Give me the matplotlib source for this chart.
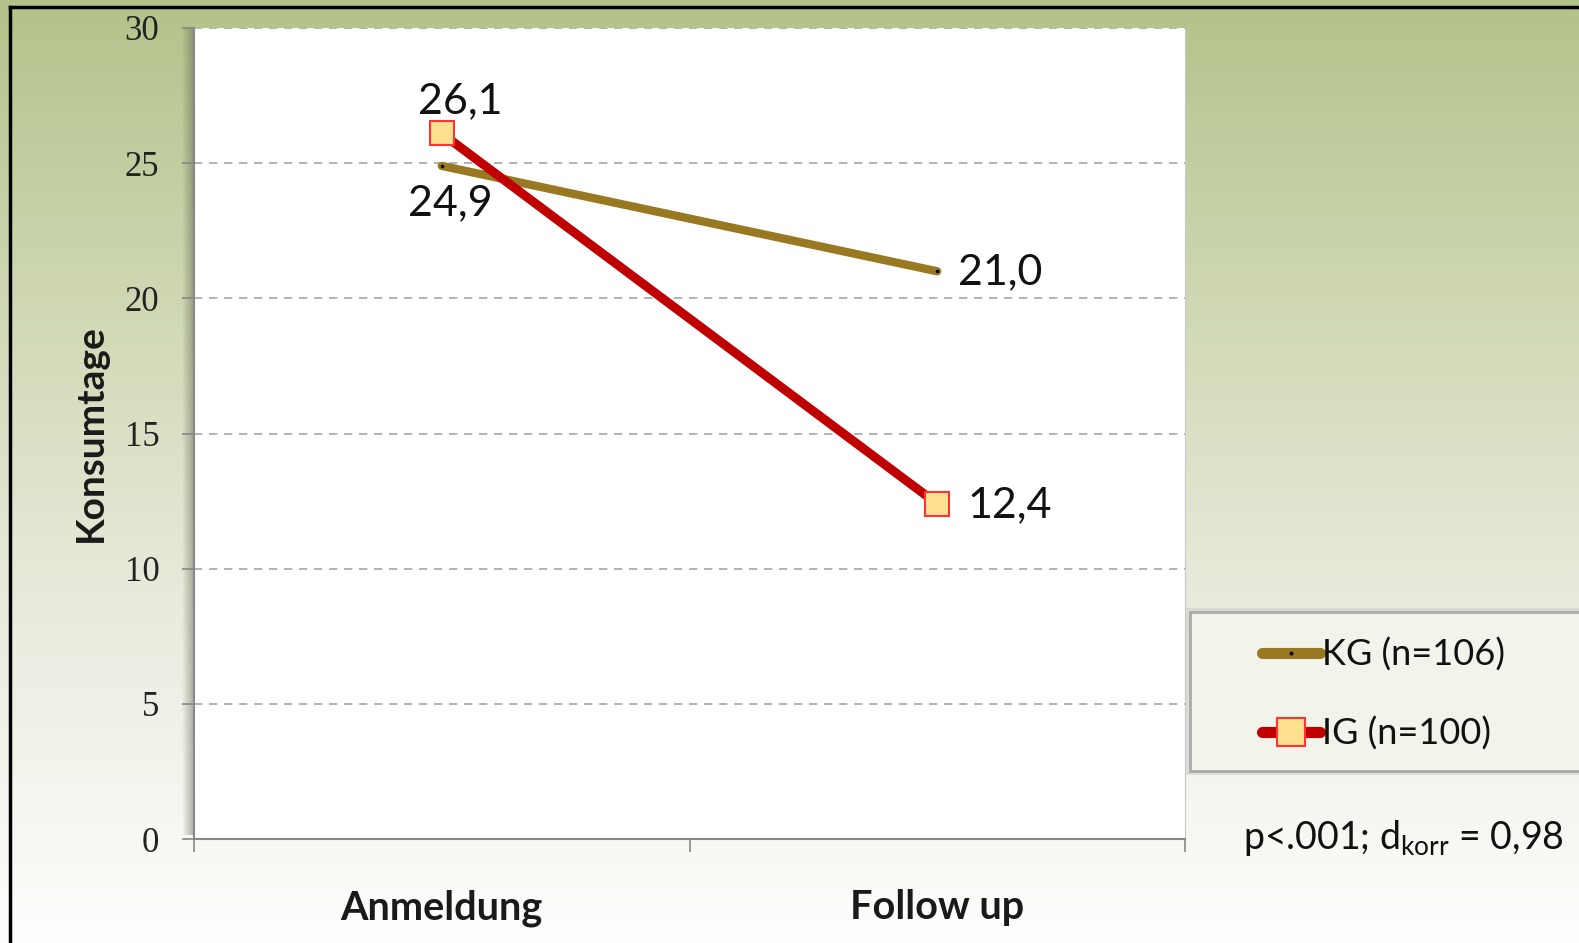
import numpy as np
import matplotlib
matplotlib.use("Agg")
import matplotlib.pyplot as plt
import matplotlib.colors as mcolors
from matplotlib.patches import Rectangle
from matplotlib.lines import Line2D

# data
categories = ["Anmeldung", "Follow up"]
kg_values = [24.9, 21.0]
ig_values = [26.1, 12.4]
kg_label = "KG (n=106)"
ig_label = "IG (n=100)"
yticks = [0, 5, 10, 15, 20, 25, 30]
stat_text = r"p<.001; d$\mathregular{_{korr}}$ = 0,98"

W, H = 1579, 943
SANS = ["Lato", "DejaVu Sans"]
plt.rcParams['font.family'] = SANS

fig = plt.figure(figsize=(W / 100, H / 100), dpi=100)

# background gradient (green top -> white bottom)
bg = fig.add_axes([0, 0, 1, 1], zorder=-10)
cmap = mcolors.LinearSegmentedColormap.from_list(
  "bg", [(0.0, "#b3c28a"), (0.16, "#c1cd9f"), (0.37, "#d3dbb9"),
         (0.64, "#e8ebdd"), (1.0, "#fefefd")])
grad = np.linspace(0, 1, 256).reshape(-1, 1)
bg.imshow(grad, aspect="auto", cmap=cmap, extent=[0, 1, 0, 1], origin="upper")
bg.set_xlim(0, 1)
bg.set_ylim(0, 1)
bg.axis("off")

def fx(px):
  return px / W

def fy(py):
  return 1 - py / H

# black frame (top and left visible)
fig.add_artist(Line2D([fx(10), 1.0], [fy(7), fy(7)], color="black", lw=2.5))
fig.add_artist(Line2D([fx(10), fx(10)], [fy(7), 0.0], color="black", lw=2.5))

# plot area
left, right, top, bottom = 194, 1185, 28, 839
# soft shadow left of plot area
for i in range(12):
  fig.add_artist(Rectangle((fx(left - 12 + i), fy(bottom - 4)), fx(1), (bottom - top - 4) / H,
                           color="#4a4f3a", alpha=0.02 + 0.035 * i, lw=0,
                           transform=fig.transFigure, zorder=-1))

ax = fig.add_axes([fx(left), fy(bottom), fx(right - left), (bottom - top) / H])
ax.set_facecolor("white")
x = np.arange(len(categories))

ax.plot(x, kg_values, color="#987820", lw=6, solid_capstyle="round",
        marker=".", markersize=3, markerfacecolor="black", markeredgecolor="black", label=kg_label, zorder=3)
ax.plot(x, ig_values, color="#c00000", lw=6.5, solid_capstyle="round",
        marker="s", markersize=17, markerfacecolor="#ffe08f", markeredgecolor="#ff3333",
        markeredgewidth=1.5, label=ig_label, zorder=4)

ax.set_xlim(-0.5, 1.5)
ax.set_ylim(0, 30)
ax.set_yticks(yticks)
ax.set_yticklabels([str(v) for v in yticks], family="Liberation Serif", fontsize=25, color="#222222")
ax.set_xticks([-0.5, 0.5, 1.5])
ax.set_xticklabels([])
ax.tick_params(axis="x", direction="out", length=9, color="#888888", width=1.2)
ax.tick_params(axis="y", direction="out", length=9, color="#888888", width=1.2, pad=16)
for i, c in enumerate(categories):
  ax.text(i, -2.55, c, ha="center", va="center", fontsize=28.5, fontweight="bold", color="#1a1a1a")

ax.grid(axis="y", color="#a6a6a6", linestyle=(0, (5, 4)), lw=1.2)
ax.set_axisbelow(True)
ax.spines["left"].set_color("#888888")
ax.spines["left"].set_linewidth(1.5)
ax.spines["bottom"].set_color("#888888")
ax.spines["bottom"].set_linewidth(1.5)
ax.spines["right"].set_color("#c8c8c8")
ax.spines["top"].set_visible(False)

ax.set_ylabel("Konsumtage", fontsize=28, fontweight="bold", labelpad=12, color="#1a1a1a")

# value labels
lab = dict(fontsize=31, color="#111111", textcoords="offset points")
ax.annotate("26,1", (0, ig_values[0]), xytext=(13, 23), ha="center", va="center", **lab)
ax.annotate("24,9", (0, kg_values[0]), xytext=(6, -27), ha="center", va="center", **lab)
ax.annotate("21,0", (1, kg_values[1]), xytext=(15, -1), ha="left", va="center", **lab)
ax.annotate("12,4", (1, ig_values[1]), xytext=(22, -1), ha="left", va="center", **lab)

# legend box, runs off the right edge
fig.add_artist(Rectangle((fx(1186), fy(775)), fx(500), (775 - 608) / H, facecolor="#c8c8c8",
                         edgecolor="none", alpha=0.5, transform=fig.transFigure, zorder=-1))
fig.add_artist(Rectangle((fx(1190), fy(771)), fx(500), (771 - 612) / H, facecolor="#f2f4ec",
                         edgecolor="#aaaaaa", lw=2, transform=fig.transFigure, zorder=-1))
leg = ax.legend(loc="center left", bbox_to_anchor=(fx(1262), fy(694)), bbox_transform=fig.transFigure,
                frameon=False, fontsize=26, handlelength=1.6, handletextpad=0.05,
                labelspacing=1.25, borderpad=0, borderaxespad=0, markerscale=1.2)
for t in leg.get_texts():
  t.set_color("#111111")
for h in leg.get_lines():
  h.set_linewidth(8)

fig.text(fx(1243), fy(838), stat_text, fontsize=27, ha="left", va="center", color="#111111")

plt.savefig("out.png", dpi=100)
